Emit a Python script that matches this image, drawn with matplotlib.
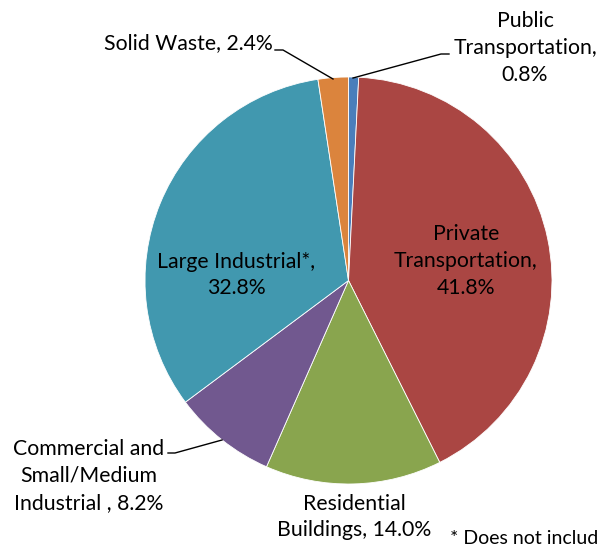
import matplotlib
matplotlib.use("Agg")
import matplotlib.pyplot as plt

labels = ["Public\nTransportation,\n0.8%", "Private\nTransportation,\n41.8%",
          "Residential\nBuildings, 14.0%", "Commercial and\nSmall/Medium\nIndustrial , 8.2%",
          "Large Industrial*,\n32.8%", "Solid Waste, 2.4%"]
shares = [0.8, 41.8, 14.0, 8.2, 32.8, 2.4]
colors = ["#4A7EBB", "#AA4643", "#89A54E", "#71588F", "#4198AF", "#DB843D"]

W, H = 600, 546
plt.rcParams["font.family"] = ["Lato", "DejaVu Sans"]

fig = plt.figure(figsize=(6, 5.46), dpi=100)

# pie in its own axes placed over the pixel box of the circle
cx, cy, r = 348.5, 280.5, 203.5
pax = fig.add_axes([(cx - r) / W, 1 - (cy + r) / H, 2 * r / W, 2 * r / H])
pax.pie(shares, colors=colors, startangle=90, counterclock=False,
        wedgeprops=dict(edgecolor="white", linewidth=0.6))
pax.set_xlim(-1, 1)
pax.set_ylim(-1, 1)
pax.set_aspect("equal")

# overlay in pixel coordinates for labels and leader lines
ax = fig.add_axes([0, 0, 1, 1])
ax.set_xlim(0, W)
ax.set_ylim(H, 0)
ax.patch.set_alpha(0)
ax.axis("off")

fs = 15.3
txt = dict(fontsize=fs, ha="center", va="center", linespacing=1.42, color="black")
pos = [(525, 48), (466, 261), (354, 517), (89, 476), (236, 275), (188, 43)]
for lab, (x, y) in zip(labels, pos):
    ax.text(x, y, lab, **txt)

ax.plot([353, 441, 449], [78, 54, 54], color="black", lw=1)
ax.plot([275, 283, 333], [50, 50, 79], color="black", lw=1)
ax.plot([168, 175, 222], [453, 453, 440], color="black", lw=1)

ax.text(450, 539, "* Does not includ", fontsize=14, ha="left", va="center")

fig.savefig("out.png", dpi=100)
